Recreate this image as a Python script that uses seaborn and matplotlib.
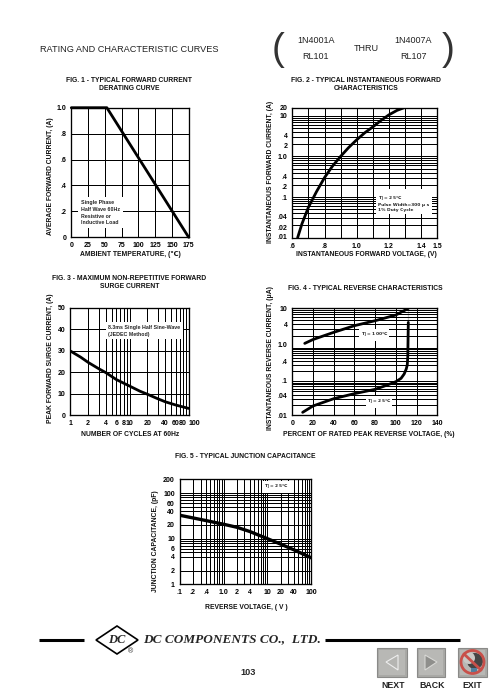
# Rating and characteristic curves, 1N4001A / RL101 data sheet page

import numpy as np
import matplotlib
matplotlib.use('Agg')
import matplotlib.pyplot as plt
from matplotlib import ticker
from matplotlib.patches import Polygon, Rectangle, Circle
import seaborn as sns

sns.set_theme(style='white')
plt.rcParams['font.family'] = ['Liberation Sans', 'DejaVu Sans']
plt.rcParams['mathtext.default'] = 'regular'

W, H = 494, 694

# Fig 1
fig1_temp = [0, 53, 175]
fig1_current = [1.0, 1.0, 0.0]
fig1_xticks = [0, 25, 50, 75, 100, 125, 150, 175]
fig1_yticks = [0, 0.2, 0.4, 0.6, 0.8, 1.0]
fig1_ylabels = ['0', '.2', '.4', '.6', '.8', '1.0']

# Fig 2
fig2_voltage = [0.633, 0.66, 0.7, 0.75, 0.8, 0.85, 0.9, 0.95, 1.0, 1.05, 1.1, 1.15, 1.2, 1.25, 1.3]
fig2_current = [0.01, 0.022, 0.056, 0.135, 0.3, 0.58, 1.0, 1.65, 2.56, 3.8, 5.3, 7.6, 10.5, 13.5, 16]
fig2_xticks = [0.6, 0.8, 1.0, 1.2, 1.4, 1.5]
fig2_xlabels = ['.6', '.8', '1.0', '1.2', '1.4', '1.5']
fig2_ytick_pos = [0.0105, 0.018, 0.033, 0.1, 0.18, 0.32, 1.0, 1.8, 3.2, 10, 15.7]
fig2_ylabels = ['.01', '.02', '.04', '.1', '.2', '.4', '1.0', '2', '4', '10', '20']

# Fig 3
fig3_cycles = [1, 1.5, 2, 3, 4, 6, 10, 15, 20, 30, 40, 60, 100]
fig3_current = [29.9, 27, 24.6, 21.7, 19.8, 16.6, 13.6, 11.2, 9.8, 7.7, 6.3, 4.8, 3.2]
fig3_xticks = [1, 2, 4, 6, 8, 10, 20, 40, 60, 80, 100]
fig3_xlabels = ['1', '2', '4', '6', '8', '10', '20', '40', '60', '80', '100']
fig3_yticks = [0, 10, 20, 30, 40, 50]

# Fig 4, decades on this sheet are not all the same height
fig4_decades = [-2, -1, 0, 1]
fig4_heights = [0, 103, 203, 323]
fig4_pct_hot = [12, 20, 40, 60, 80, 100, 112]
fig4_cur_hot = [1.28, 1.6, 2.42, 3.55, 4.73, 6.56, 9.6]
fig4_pct_cold = [10, 20, 40, 60, 80, 90, 100, 105, 108, 110, 111, 111.5, 112, 112, 112]
fig4_cur_cold = [0.0122, 0.0187, 0.0305, 0.0428, 0.0571, 0.0731, 0.0955, 0.12, 0.162, 0.229, 0.302, 0.537, 1.0, 2.28, 9.6]
fig4_xticks = [0, 20, 40, 60, 80, 100, 120, 140]
fig4_ytick_pos = [0.01, 0.0374, 0.107, 0.38, 1.21, 3.9, 9.6]
fig4_ylabels = ['.01', '.04', '.1', '.4', '1.0', '4', '10']

# Fig 5
fig5_voltage = [0.1, 0.2, 0.4, 1.0, 2, 4, 10, 20, 40, 100]
fig5_cap = [32.6, 28.5, 24.9, 20.7, 17.8, 14.3, 10, 7.6, 5.7, 3.8]
fig5_xticks = [0.1, 0.2, 0.4, 1, 2, 4, 10, 20, 40, 100]
fig5_xlabels = ['.1', '.2', '.4', '1.0', '2', '4', '10', '20', '40', '100']
fig5_yticks = [1, 2, 4, 6, 10, 20, 40, 60, 100, 200]

TICK = 5.0
LABEL = 4.85
GRID = 0.72


def make_axes(fig, left, right, top, bottom):
    ax = fig.add_axes([left / W, 1 - bottom / H, (right - left) / W, (bottom - top) / H])
    for s in ax.spines.values():
        s.set_visible(True)
        s.set_color('black')
        s.set_linewidth(0.95)
    ax.tick_params(which='both', length=0, labelsize=TICK, pad=3.5, colors='black')
    ax.set_axisbelow(True)
    ax.xaxis.remove_overlapping_locs = False
    ax.yaxis.remove_overlapping_locs = False
    return ax


def log_grid(axis, subs=(1, 2, 3, 4, 5, 6, 7, 8, 9)):
    axis.set_minor_locator(ticker.LogLocator(base=10, subs=subs, numticks=20))
    axis.set_minor_formatter(ticker.NullFormatter())


def finish(ax, title, title_xy, xlabel, xlabel_xy, ylabel, ylabel_xy):
    # the *_xy are page pixels, turned into axes fractions here
    box = ax.get_position()
    left, right = box.x0 * W, box.x1 * W
    top, bottom = (1 - box.y1) * H, (1 - box.y0) * H
    fx = lambda px: (px - left) / (right - left)
    fy = lambda py: (bottom - py) / (bottom - top)
    ax.set_title(title, fontsize=LABEL, fontweight='bold', color='#111111', linespacing=1.2,
                 x=fx(title_xy[0]), y=fy(title_xy[1]), va='center', ha='center')
    ax.set_xlabel(xlabel, fontsize=LABEL, fontweight='bold', color='#111111', va='center')
    ax.xaxis.set_label_coords(fx(xlabel_xy[0]), fy(xlabel_xy[1]))
    ax.set_ylabel(ylabel, fontsize=LABEL, fontweight='bold', color='#111111', va='center')
    ax.yaxis.set_label_coords(fx(ylabel_xy[0]), fy(ylabel_xy[1]))
    for t in ax.get_xticklabels() + ax.get_yticklabels():
        t.set_fontweight('bold')


def note(ax, x, y, s, ha='left', pad=2.0, family='Liberation Sans', size=3.8, spacing=1.45):
    ax.text(x, y, s, fontsize=size, fontweight='bold', ha=ha, va='center', linespacing=spacing, zorder=4,
            family=family, bbox=dict(facecolor='white', edgecolor='none', pad=pad))


def fig4_forward(v):
    return np.interp(np.log10(np.maximum(v, 1e-6)), fig4_decades, fig4_heights)


def fig4_inverse(h):
    return 10.0 ** np.interp(h, fig4_heights, fig4_decades)


fig = plt.figure(figsize=(W / 100, H / 100), dpi=100, facecolor='white')

# Fig 1
ax = make_axes(fig, 71.3, 188.7, 107.7, 237.3)
sns.lineplot(x=fig1_temp, y=fig1_current, ax=ax, color='black', linewidth=2.0, zorder=5, clip_on=False)
ax.set_xlim(0, 175)
ax.set_ylim(0, 1)
ax.set_xticks(fig1_xticks)
ax.set_yticks(fig1_yticks)
ax.set_yticklabels(fig1_ylabels)
ax.grid(True, color='black', linewidth=GRID)
note(ax, 14.4, 0.19, 'Single Phase\nHalf Wave 60Hz\nResistive or\nInductive Load')
finish(ax, 'FIG. 1 - TYPICAL FORWARD CURRENT\nDERATING CURVE', (129.3, 92.8),
       'AMBIENT TEMPERATURE, (℃)', (130.3, 255),
       'AVERAGE FORWARD CURRENT, (A)', (50.7, 175.8))

# Fig 2
ax = make_axes(fig, 292.3, 437.3, 107.7, 237.7)
sns.lineplot(x=fig2_voltage, y=fig2_current, ax=ax, color='black', linewidth=2.0, zorder=5)
ax.set_yscale('log')
ax.set_xlim(0.6, 1.5)
ax.set_ylim(0.01, 15.7)
ax.set_xticks(fig2_xticks)
ax.set_xticklabels(fig2_xlabels)
ax.set_xticks(np.arange(0.6, 1.45, 0.1), minor=True)
ax.set_yticks(fig2_ytick_pos)
ax.set_yticklabels(fig2_ylabels)
log_grid(ax.yaxis)
ax.grid(True, which='minor', color='black', linewidth=GRID)
ax.tick_params(which='both', length=0)
note(ax, 1.134, 0.072, 'T$_J$ = 25℃\nPulse Width=300 μ s\n1% Duty Cycle', family='DejaVu Sans', size=3.2,
     spacing=1.2, pad=1.5)
finish(ax, 'FIG. 2 - TYPICAL INSTANTANEOUS FORWARD\nCHARACTERISTICS', (366, 92.8),
       'INSTANTANEOUS FORWARD VOLTAGE, (V)', (366, 255),
       'INSTANTANEOUS FORWARD CURRENT, (A)', (270, 171.7))

# Fig 3
ax = make_axes(fig, 70.3, 188.7, 307.7, 415.3)
sns.lineplot(x=fig3_cycles, y=fig3_current, ax=ax, color='black', linewidth=2.0, zorder=5)
ax.set_xscale('log')
ax.set_xlim(1, 100)
ax.set_ylim(0, 50)
ax.set_xticks(fig3_xticks)
ax.set_xticklabels(fig3_xlabels)
ax.get_xticklabels()[-1].set_ha('left')
ax.set_yticks(fig3_yticks)
log_grid(ax.xaxis)
ax.grid(True, axis='x', which='minor', color='black', linewidth=GRID)
ax.grid(True, axis='y', which='major', color='black', linewidth=GRID)
ax.grid(False, axis='x', which='major')
note(ax, 4.39, 39.3, '8.3ms Single Half Sine-Wave\n(JEDEC Method)')
finish(ax, 'FIG. 3 - MAXIMUM NON-REPETITIVE FORWARD\nSURGE CURRENT', (129.3, 291.2),
       'NUMBER OF CYCLES AT 60Hz', (130, 435),
       'PEAK FORWARD SURGE CURRENT, (A)', (50, 358))

# Fig 4
ax = make_axes(fig, 292.3, 437.3, 307.7, 415.3)
sns.lineplot(x=fig4_pct_hot, y=fig4_cur_hot, ax=ax, color='black', linewidth=2.0, zorder=5)
sns.lineplot(x=fig4_pct_cold, y=fig4_cur_cold, ax=ax, color='black', linewidth=2.0, zorder=5, sort=False)
ax.set_yscale('function', functions=(fig4_forward, fig4_inverse))
ax.set_xlim(0, 140)
ax.set_ylim(0.01, 10)
ax.set_xticks(fig4_xticks)
ax.set_yticks(fig4_ytick_pos)
ax.set_yticklabels(fig4_ylabels)
log_grid(ax.yaxis)
ax.grid(True, axis='y', which='minor', color='black', linewidth=GRID)
ax.grid(False, axis='y', which='major')
ax.grid(True, axis='x', which='major', color='black', linewidth=GRID)
ax.tick_params(which='both', length=0)
note(ax, 79, 2.1, 'T$_J$ = 100℃', ha='center', pad=1.2, family='DejaVu Sans', size=3.2, spacing=1.0)
note(ax, 83.7, 0.0245, 'T$_J$ = 25℃', ha='center', pad=1.0, family='DejaVu Sans', size=3.2, spacing=1.0)
finish(ax, 'FIG. 4 - TYPICAL REVERSE CHARACTERISTICS', (365.7, 296.7),
       'PERCENT OF RATED PEAK REVERSE VOLTAGE, (%)', (369, 435),
       'INSTANTANEOUS REVERSE CURRENT, (μA)', (270, 358))

# Fig 5
ax = make_axes(fig, 179.7, 311.3, 479.3, 584.3)
sns.lineplot(x=fig5_voltage, y=fig5_cap, ax=ax, color='black', linewidth=2.4, zorder=5)
ax.set_xscale('log')
ax.set_yscale('log')
ax.set_xlim(0.1, 100)
ax.set_ylim(1, 200)
ax.set_xticks(fig5_xticks)
ax.set_xticklabels(fig5_xlabels)
ax.set_yticks(fig5_yticks)
ax.set_yticklabels([str(v) for v in fig5_yticks])
log_grid(ax.xaxis)
log_grid(ax.yaxis, subs=(1, 2, 4, 5, 6, 7, 8, 9))
ax.grid(True, which='minor', color='black', linewidth=GRID)
ax.grid(False, which='major')
note(ax, 15.7, 138, 'T$_J$ = 25℃', ha='center', family='DejaVu Sans', size=3.2, spacing=1.0, pad=1.2)
finish(ax, 'FIG. 5 - TYPICAL JUNCTION CAPACITANCE', (245.7, 465.3),
       'REVERSE VOLTAGE, ( V )', (246.7, 607.7),
       'JUNCTION CAPACITANCE, (pF)', (155.7, 540.7))

# Page furniture in pixel coordinates
page = fig.add_axes([0, 0, 1, 1], zorder=10)
page.set_xlim(0, W)
page.set_ylim(H, 0)
page.axis('off')
page.patch.set_alpha(0)

page.text(40, 49, 'RATING AND CHARACTERISTIC CURVES', fontsize=6.55, va='center', color='#222222')
page.text(315.7, 40, '1N4001A', fontsize=6.5, ha='center', va='center', color='#222222')
page.text(315.7, 56.7, 'RL101', fontsize=6.5, ha='center', va='center', color='#222222')
page.text(366, 48, 'THRU', fontsize=6.5, ha='center', va='center', color='#222222')
page.text(413, 40, '1N4007A', fontsize=6.5, ha='center', va='center', color='#222222')
page.text(413, 56.7, 'RL107', fontsize=6.5, ha='center', va='center', color='#222222')
page.text(278, 50, '(', fontsize=28, ha='center', va='center', color='#333333')
page.text(448, 50, ')', fontsize=28, ha='center', va='center', color='#333333')

page.plot([39, 84], [639.5, 639.5], color='black', lw=2.2, solid_capstyle='butt')
page.plot([325, 460], [639.5, 639.5], color='black', lw=2.2, solid_capstyle='butt')
page.add_patch(Polygon([(96, 640), (117, 626), (138, 640), (117, 654)], fill=False, ec='black', lw=1.2))
page.text(117, 640, 'DC', fontsize=9, family='Liberation Serif', style='italic', fontweight='bold',
          ha='center', va='center')
page.text(130, 652, '®', fontsize=5, ha='center', va='center')
page.text(143, 639, 'DC COMPONENTS CO.,  LTD.', fontsize=9.5, family='Liberation Serif', style='italic',
          fontweight='bold', va='center')
page.text(248, 672.5, '103', fontsize=6.6, fontweight='bold', ha='center', va='center')


def button(x0, x1, y0, y1):
    page.add_patch(Rectangle((x0, y0), x1 - x0, y1 - y0, fc='#a9a9a6', ec='#8a8a88', lw=0.8))
    page.add_patch(Rectangle((x0 + 2, y0 + 2), x1 - x0 - 4, y1 - y0 - 4, fc='#b8b8b5', ec='none'))


button(377, 407, 648, 677)
page.add_patch(Polygon([(386, 662), (398, 655), (398, 670)], fc='#b5b5b2', ec='#eeeeee', lw=0.8))
button(417, 445, 648, 677)
page.add_patch(Polygon([(425, 655), (437, 662), (425, 670)], fc='#8f8f8c', ec='#d8d8d5', lw=0.8))
button(458, 487, 648, 677)
page.add_patch(Circle((475, 661), 8, fc='#444444', ec='none'))
page.add_patch(Circle((469, 658), 6, fc='#c9c9c6', ec='none'))
page.add_patch(Rectangle((471, 668), 6, 4, fc='#4f7f9f', ec='none'))
page.add_patch(Circle((472.5, 662), 11.5, fill=False, ec='#c8504a', lw=2.0))
page.plot([464, 481], [654, 670], color='#c8504a', lw=2.0)
for cx, lab in zip([393, 432, 472], ['NEXT', 'BACK', 'EXIT']):
    page.text(cx, 685, lab, fontsize=6.3, fontweight='bold', ha='center', va='center', color='#222222')

fig.savefig('out.png', dpi=100)
